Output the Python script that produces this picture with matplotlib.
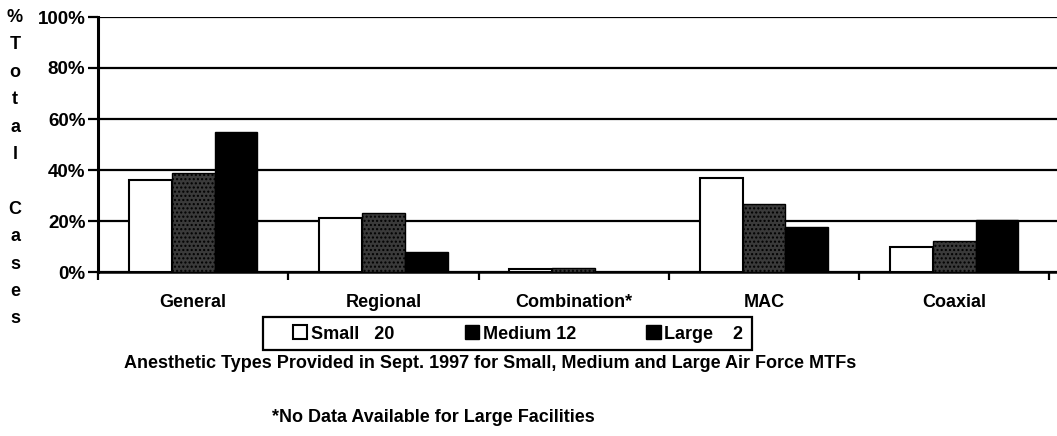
import numpy as np
import matplotlib
matplotlib.use('Agg')
import matplotlib.pyplot as plt
from matplotlib.patches import Patch, Rectangle

plt.rcParams['font.family'] = ['Liberation Sans', 'DejaVu Sans']
plt.rcParams['font.weight'] = 'bold'
plt.rcParams['hatch.color'] = '#aaaaaa'
plt.rcParams['hatch.linewidth'] = 1.0

categories = ['General', 'Regional', 'Combination*', 'MAC', 'Coaxial']
small = [36, 21, 1, 37, 10]
medium = [39, 23, 1.5, 26.5, 12]
large = [55, 8, 0, 17.5, 20.5]
legend_labels = ['Small   20', 'Medium 12', 'Large    2']

FS = 13

fig = plt.figure(figsize=(10.57, 4.36), dpi=100)
ax = fig.add_axes([98/1057, 1-272/436, 1-98/1057, 255/436])

x = np.arange(len(categories)) + 0.5
w = 0.225
ax.bar(x - w, small, w, color='white', edgecolor='black', linewidth=1.5, zorder=3)
ax.bar(x, medium, w, color='#3a3a3a', edgecolor='black', linewidth=1.0, hatch='....', zorder=3)
ax.bar(x + w, large, w, color='black', edgecolor='black', linewidth=1.0, zorder=3)

ax.set_xlim(0, 5.04)
ax.set_ylim(0, 100)
ax.set_yticks(range(0, 101, 20))
ax.set_yticklabels([f'{v}%' for v in range(0, 101, 20)], fontsize=FS + 0.5, fontweight='bold')
ax.yaxis.grid(True, color='black', linewidth=1.6, zorder=0)
ax.set_axisbelow(True)

ax.set_xticks(range(0, 6))
ax.set_xticklabels([])
ax.set_xticks(x, minor=True)
ax.set_xticklabels(categories, minor=True, fontsize=FS, fontweight='bold')
ax.tick_params(axis='x', which='minor', length=0, pad=16)
ax.tick_params(axis='x', which='major', length=6, width=1.6, direction='out')
ax.tick_params(axis='y', length=7, width=1.6, direction='out', pad=2)

for s in ['top', 'right']:
    ax.spines[s].set_visible(False)
ax.spines['left'].set_linewidth(2.2)
ax.spines['bottom'].set_linewidth(1.8)

# legend box drawn by hand, entries placed inside it
fig.patches.append(Rectangle((263/1057, 1-350/436), (752-263)/1057, 33/436,
                             transform=fig.transFigure, facecolor='none',
                             edgecolor='black', linewidth=1.6, zorder=-1))
handles = [Patch(facecolor='white', edgecolor='black', linewidth=1.5),
           Patch(facecolor='black', edgecolor='black'),
           Patch(facecolor='black', edgecolor='black')]
leg = ax.legend(handles, legend_labels, loc='center', ncol=3,
                bbox_to_anchor=(518/1057, 1-334/436), bbox_transform=fig.transFigure,
                frameon=False, prop={'size': FS, 'weight': 'bold'},
                handlelength=0.8, handleheight=0.8, handletextpad=0.2,
                columnspacing=3.9, borderpad=0, borderaxespad=0)

fig.text(490/1057, 1-363/436, 'Anesthetic Types Provided in Sept. 1997 for Small, Medium and Large Air Force MTFs',
         ha='center', va='center', fontsize=FS, fontweight='bold')
fig.text(272/1057, 1-417/436, '*No Data Available for Large Facilities',
         ha='left', va='center', fontsize=FS, fontweight='bold')

fig.text(15/1057, 1-9/436, '%\nT\no\nt\na\nl\n\nC\na\ns\ne\ns', ha='center', va='top',
         fontsize=FS, fontweight='bold', linespacing=1.8)

fig.savefig('out.png', dpi=100)
